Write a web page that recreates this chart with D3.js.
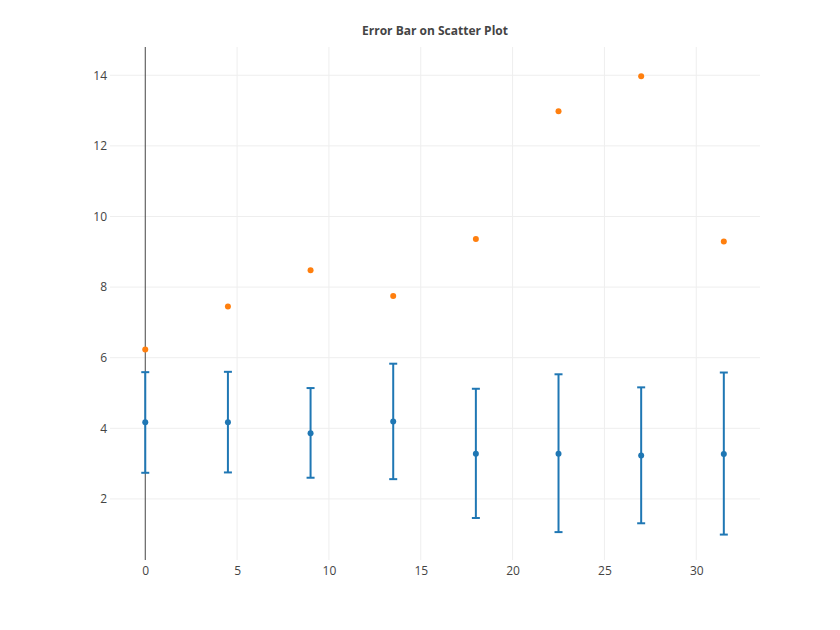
<!DOCTYPE html>
<html>
<head>
<meta charset="utf-8">
<script src="https://cdn.jsdelivr.net/npm/d3@7"></script>
<style>
  body { margin: 0; background: #fff; }
  text { font-family: "Open Sans", sans-serif; }
</style>
</head>
<body>
<svg id="chart" width="840" height="630"></svg>
<script>
// x positions shared by both series
const xValues = [0, 4.5, 9, 13.5, 18, 22.5, 27, 31.5]
// blue series with asymmetric error bars
const blueY = [4.17, 4.17, 3.86, 4.19, 3.28, 3.28, 3.23, 3.27]
const errorPlus = [1.42, 1.43, 1.28, 1.64, 1.84, 2.25, 1.93, 2.31]
const errorMinus = [1.43, 1.42, 1.26, 1.63, 1.82, 2.22, 1.92, 2.28]
// orange series (markers only)
const orangeY = [6.23, 7.45, 8.48, 7.75, 9.36, 12.98, 13.97, 9.29]
const xTicks = [0, 5, 10, 15, 20, 25, 30]
const yTicks = [2, 4, 6, 8, 10, 12, 14]

const svg = d3.select('#chart')
const margin = {top: 47, right: 80, bottom: 70, left: 110}
const width = 840, height = 630

const x = d3.scaleLinear()
  .domain([-1.92, 33.47])
  .range([margin.left, width - margin.right])

const y = d3.scaleLinear()
  .domain([0.27, 14.8])
  .range([height - margin.bottom, margin.top])

// grid lines
svg.append('g')
  .selectAll('line')
  .data(xTicks.filter(d => d !== 0))
  .enter().append('line')
  .attr('x1', d => x(d)).attr('x2', d => x(d))
  .attr('y1', margin.top).attr('y2', height - margin.bottom)
  .attr('stroke', '#eee')

svg.append('g')
  .selectAll('line')
  .data(yTicks)
  .enter().append('line')
  .attr('x1', margin.left).attr('x2', width - margin.right)
  .attr('y1', d => y(d)).attr('y2', d => y(d))
  .attr('stroke', '#eee')

// zero line at x = 0
svg.append('line')
  .attr('x1', x(0)).attr('x2', x(0))
  .attr('y1', margin.top).attr('y2', height - margin.bottom)
  .attr('stroke', '#444')
  .attr('stroke-width', 1)

// axes (ticks only, no domain lines)
const xAxis = svg.append('g')
  .attr('transform', `translate(0, ${height - margin.bottom})`)
  .call(d3.axisBottom(x).tickValues(xTicks).tickSize(0).tickPadding(6))
xAxis.select('.domain').remove()

const yAxis = svg.append('g')
  .attr('transform', `translate(${margin.left}, 0)`)
  .call(d3.axisLeft(y).tickValues(yTicks).tickSize(0).tickPadding(3))
yAxis.select('.domain').remove()

svg.selectAll('.tick text')
  .attr('font-family', '"Open Sans", sans-serif')
  .attr('font-size', 12)
  .attr('fill', '#444')

// build blue points table
const bluePoints = xValues.map((xv, i) => ({
  x: xv, y: blueY[i], hi: blueY[i] + errorPlus[i], lo: blueY[i] - errorMinus[i]
}))

const blue = '#1f77b4'
const capHalf = 4

const bars = svg.append('g').selectAll('g')
  .data(bluePoints)
  .enter().append('g')

bars.append('line')
  .attr('x1', d => x(d.x)).attr('x2', d => x(d.x))
  .attr('y1', d => y(d.hi)).attr('y2', d => y(d.lo))
  .attr('stroke', blue).attr('stroke-width', 2)

bars.append('line')
  .attr('x1', d => x(d.x) - capHalf).attr('x2', d => x(d.x) + capHalf)
  .attr('y1', d => y(d.hi)).attr('y2', d => y(d.hi))
  .attr('stroke', blue).attr('stroke-width', 2)

bars.append('line')
  .attr('x1', d => x(d.x) - capHalf).attr('x2', d => x(d.x) + capHalf)
  .attr('y1', d => y(d.lo)).attr('y2', d => y(d.lo))
  .attr('stroke', blue).attr('stroke-width', 2)

bars.append('circle')
  .attr('cx', d => x(d.x)).attr('cy', d => y(d.y))
  .attr('r', 3)
  .attr('fill', blue)

// orange markers
svg.append('g').selectAll('circle')
  .data(xValues.map((xv, i) => ({x: xv, y: orangeY[i]})))
  .enter().append('circle')
  .attr('cx', d => x(d.x)).attr('cy', d => y(d.y))
  .attr('r', 3)
  .attr('fill', '#ff7f0e')

// title
svg.append('text')
  .attr('x', (margin.left + width - margin.right) / 2)
  .attr('y', 35)
  .attr('text-anchor', 'middle')
  .attr('font-size', 12)
  .attr('font-weight', 'bold')
  .attr('fill', '#444')
  .text('Error Bar on Scatter Plot')
</script>
</body>
</html>
